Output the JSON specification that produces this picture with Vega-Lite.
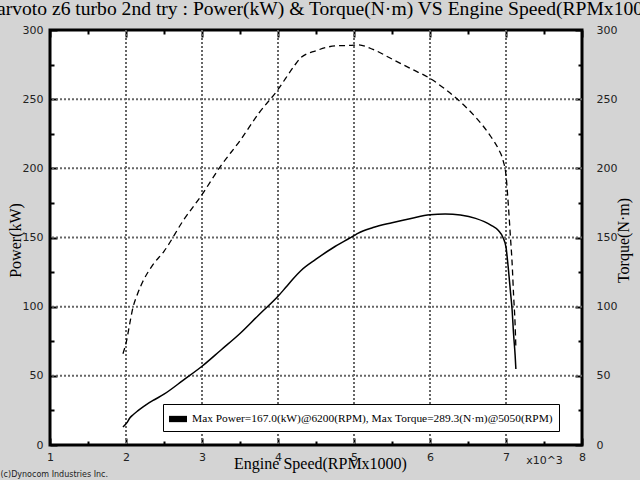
{
  "$schema": "https://vega.github.io/schema/vega-lite/v6.json",
  "width": 532,
  "height": 415,
  "autosize": {"type": "none"},
  "padding": {"left": 50, "top": 30, "right": 58, "bottom": 35},
  "background": "#d4d4d4",
  "title": {"text": "arvoto z6 turbo 2nd try : Power(kW) & Torque(N·m) VS Engine Speed(RPMx100", "font": "Liberation Serif", "fontSize": 19.6, "fontWeight": "normal", "color": "black", "anchor": "middle", "offset": 4, "dx": 4},
  "datasets": {
    "curve": [
      {"rpm": 1.96, "power": 13, "torque": 66},
      {"rpm": 2.01, "power": 16, "torque": 76},
      {"rpm": 2.05, "power": 19.5, "torque": 88},
      {"rpm": 2.09, "power": 21.7, "torque": 99},
      {"rpm": 2.15, "power": 24.5, "torque": 109},
      {"rpm": 2.22, "power": 27.4, "torque": 118},
      {"rpm": 2.35, "power": 32, "torque": 130},
      {"rpm": 2.5, "power": 36.7, "torque": 140},
      {"rpm": 2.75, "power": 46.7, "torque": 162},
      {"rpm": 3.0, "power": 56.9, "torque": 181},
      {"rpm": 3.25, "power": 68.7, "torque": 202},
      {"rpm": 3.5, "power": 80.6, "torque": 220},
      {"rpm": 3.75, "power": 94.2, "torque": 240},
      {"rpm": 4.0, "power": 107.5, "torque": 257},
      {"rpm": 4.1, "power": 113.8, "torque": 265},
      {"rpm": 4.2, "power": 120.2, "torque": 273},
      {"rpm": 4.3, "power": 126, "torque": 280},
      {"rpm": 4.5, "power": 134.3, "torque": 285},
      {"rpm": 4.75, "power": 143.5, "torque": 288.5},
      {"rpm": 5.0, "power": 151.3, "torque": 289},
      {"rpm": 5.05, "power": 153, "torque": 289.3},
      {"rpm": 5.25, "power": 157.2, "torque": 286},
      {"rpm": 5.5, "power": 160.7, "torque": 279},
      {"rpm": 5.75, "power": 163.8, "torque": 272},
      {"rpm": 6.0, "power": 166.5, "torque": 265},
      {"rpm": 6.2, "power": 167, "torque": 257.2},
      {"rpm": 6.4, "power": 166.2, "torque": 248},
      {"rpm": 6.6, "power": 163.8, "torque": 237},
      {"rpm": 6.8, "power": 159, "torque": 223},
      {"rpm": 6.9, "power": 155, "torque": 214},
      {"rpm": 6.96, "power": 150, "torque": 206},
      {"rpm": 7.0, "power": 143, "torque": 195},
      {"rpm": 7.03, "power": 128, "torque": 174},
      {"rpm": 7.06, "power": 110, "torque": 149},
      {"rpm": 7.08, "power": 98, "torque": 132},
      {"rpm": 7.1, "power": 80, "torque": 108},
      {"rpm": 7.12, "power": 65, "torque": 87},
      {"rpm": 7.13, "power": 55, "torque": 70}
    ],
    "gridx": [{"v": 2}, {"v": 3}, {"v": 4}, {"v": 5}, {"v": 6}, {"v": 7}],
    "gridy": [{"v": 50}, {"v": 100}, {"v": 150}, {"v": 200}, {"v": 250}]
  },
  "config": {
    "view": {"fill": "white", "stroke": "black", "strokeWidth": 3},
    "axis": {
      "domain": false,
      "tickColor": "black",
      "tickWidth": 2,
      "labelFont": "DejaVu Sans",
      "labelFontSize": 11,
      "labelColor": "#222",
      "labelFlush": false,
      "labelOverlap": false,
      "titleFont": "Liberation Serif",
      "titleFontSize": 16,
      "titleFontWeight": "normal",
      "titleColor": "black"
    }
  },
  "layer": [
    {
      "data": {"name": "gridx"},
      "mark": {"type": "rule", "stroke": "#666666", "strokeDash": [2, 2], "strokeWidth": 2, "opacity": 1},
      "encoding": {
        "x": {"field": "v", "type": "quantitative", "scale": {"domain": [1, 8], "nice": false, "zero": false}, "axis": null}
      }
    },
    {
      "data": {"name": "gridy"},
      "mark": {"type": "rule", "stroke": "#666666", "strokeDash": [2, 2], "strokeWidth": 2, "opacity": 1},
      "encoding": {
        "y": {"field": "v", "type": "quantitative", "scale": {"domain": [0, 300], "nice": false}, "axis": null}
      }
    },
    {
      "data": {"name": "curve"},
      "mark": {"type": "line", "strokeWidth": 1.5, "interpolate": "monotone"},
      "encoding": {
        "x": {"field": "rpm", "type": "quantitative", "scale": {"domain": [1, 8], "nice": false, "zero": false},
          "axis": {"orient": "bottom", "values": [1, 1.5, 2, 2.5, 3, 3.5, 4, 4.5, 5, 5.5, 6, 6.5, 7, 7.5, 8],
            "labelExpr": "datum.value == 7.5 ? 'x10^3' : (datum.value % 1 == 0 ? '' + datum.value : '')",
            "grid": false,
            "tickSize": {"condition": {"test": "datum.value % 1 == 0", "value": -7}, "value": -4},
            "labelPadding": 13,
            "title": "Engine Speed(RPMx1000)", "titleX": 270, "titleY": 23, "titleBaseline": "alphabetic", "titleAlign": "center"}},
        "y": {"field": "power", "type": "quantitative", "scale": {"domain": [0, 300], "nice": false},
          "axis": {"orient": "left", "values": [0, 25, 50, 75, 100, 125, 150, 175, 200, 225, 250, 275, 300],
            "labelExpr": "datum.value % 50 == 0 ? '' + datum.value : ''",
            "grid": false,
            "tickSize": {"condition": {"test": "datum.value % 50 == 0", "value": -7}, "value": -4},
            "labelPadding": 14,
            "title": "Power(kW)", "titleAngle": 270, "titleX": -35, "titleY": 210, "titleAlign": "center", "titleBaseline": "middle"}},
        "color": {"datum": "Max Power=167.0(kW)@6200(RPM), Max Torque=289.3(N·m)@5050(RPM)", "scale": {"range": ["black"]},
          "legend": {"orient": "none", "legendX": 113, "legendY": 374, "title": null, "fillColor": "white", "strokeColor": "black", "padding": 6,
            "symbolType": "M-1,-0.35H1V0.35H-1Z", "symbolSize": 324, "symbolFillColor": "black", "symbolStrokeColor": "black", "symbolStrokeWidth": 0,
            "labelFont": "Liberation Serif", "labelFontSize": 11.4, "labelColor": "black", "labelLimit": 600, "labelOffset": 5}}
      }
    },
    {
      "data": {"name": "curve"},
      "mark": {"type": "line", "strokeWidth": 1.3, "strokeDash": [6, 4], "color": "black", "interpolate": "monotone"},
      "encoding": {
        "x": {"field": "rpm", "type": "quantitative", "scale": {"domain": [1, 8], "nice": false, "zero": false},
          "axis": {"orient": "top", "values": [1, 1.5, 2, 2.5, 3, 3.5, 4, 4.5, 5, 5.5, 6, 6.5, 7, 7.5, 8],
            "labels": false, "grid": false,
            "tickSize": {"condition": {"test": "datum.value % 1 == 0", "value": -7}, "value": -4},
            "title": "(c)Dynocom Industries Inc.", "titleFont": "DejaVu Sans", "titleFontSize": 8, "titleColor": "#222",
            "titleX": -50, "titleY": 448, "titleAlign": "left", "titleBaseline": "bottom", "titleAngle": 0}},
        "y": {"field": "torque", "type": "quantitative", "scale": {"domain": [0, 300], "nice": false},
          "axis": {"orient": "right", "values": [0, 25, 50, 75, 100, 125, 150, 175, 200, 225, 250, 275, 300],
            "labelExpr": "datum.value % 50 == 0 ? '' + datum.value : ''",
            "grid": false,
            "tickSize": {"condition": {"test": "datum.value % 50 == 0", "value": -7}, "value": -4},
            "labelPadding": 21,
            "title": "Torque(N·m)", "titleAngle": 270, "titleX": 41, "titleY": 210, "titleAlign": "center", "titleBaseline": "middle"}}
      }
    }
  ],
  "resolve": {"scale": {"y": "independent"}, "axis": {"x": "independent", "y": "independent"}}
}
